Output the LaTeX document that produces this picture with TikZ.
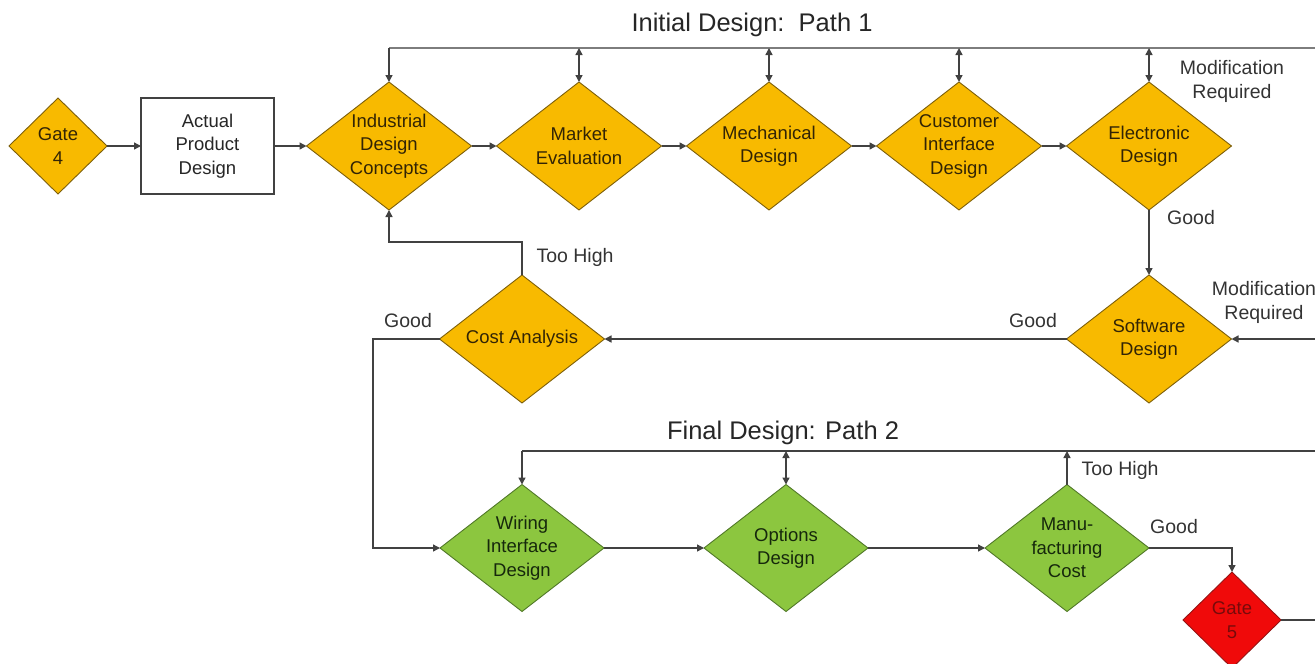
\documentclass[tikz,border=0pt]{standalone}
\usepackage{fontspec}
\setmainfont{Liberation Sans}
\usetikzlibrary{shapes.geometric,arrows.meta}

\definecolor{stageorange}{RGB}{248,186,0}
\definecolor{orangeedge}{RGB}{125,95,10}
\definecolor{orangetext}{RGB}{50,36,5}
\definecolor{stagegreen}{RGB}{140,198,63}
\definecolor{greenedge}{RGB}{80,120,40}
\definecolor{greentext}{RGB}{22,40,12}
\definecolor{gatered}{RGB}{240,10,10}
\definecolor{rededge}{RGB}{150,20,20}
\definecolor{redtext}{RGB}{120,10,10}
\definecolor{linegray}{RGB}{65,65,65}
\definecolor{busgray}{RGB}{125,125,125}

\begin{document}
\begin{tikzpicture}[x=1pt,y=-1pt,
  tip/.tip={Triangle[length=7pt,width=7pt]},
  nodefont/.style={font=\fontsize{18.5}{23.5}\selectfont},
  labelfont/.style={font=\fontsize{19.5}{24}\selectfont},
  titlefont/.style={font=\fontsize{25.5}{29}\selectfont},
  decision/.style={diamond,shape aspect=1,inner sep=0pt,outer sep=0pt,line width=0.9pt},
  orangestep/.style={decision,fill=stageorange,draw=orangeedge,
    minimum width=165pt,minimum height=128pt},
  greenstep/.style={decision,fill=stagegreen,draw=greenedge,
    minimum width=164pt,minimum height=127pt},
  gatestep/.style={decision,minimum width=98pt,minimum height=96pt},
  txt/.style={nodefont,align=center,text=#1},
  actionbox/.style={rectangle,draw=linegray,fill=white,line width=1.3pt,
    minimum width=133pt,minimum height=96pt,inner sep=0pt,outer sep=0pt,
    nodefont,align=center,text=black!85},
  conn/.style={draw=linegray,line width=1.4pt,-tip},
  twoway/.style={draw=linegray,line width=1.4pt,tip-tip},
  plain/.style={draw=linegray,line width=1.4pt},
  bus/.style={draw=busgray,line width=2pt},
  note/.style={labelfont,align=center,text=black!80}
]
\useasboundingbox (0,0) rectangle (1315,664);
\clip (0,0) rectangle (1315,664);

% titles
\node[titlefont,text=black!85] (t1) at (752,25) {Initial Design:\ \ Path 1};
\node[titlefont,text=black!85] (t2) at (783,433) {Final Design: Path 2};

% path 1 stages
\node[gatestep,fill=stageorange,draw=orangeedge,
  label={[txt=orangetext]center:Gate\\4}] (g4) at (58,146) {};
\node[actionbox] (apd) at (207.5,146) {Actual\\Product\\Design};
\node[orangestep,label={[txt=orangetext]center:Industrial\\Design\\Concepts}] (idc) at (389,146) {};
\node[orangestep,label={[txt=orangetext]center:Market\\Evaluation}] (mkt) at (579,146) {};
\node[orangestep,label={[txt=orangetext]center:Mechanical\\Design}] (mech) at (769,146) {};
\node[orangestep,label={[txt=orangetext]center:Customer\\Interface\\Design}] (cust) at (959,146) {};
\node[orangestep,label={[txt=orangetext]center:Electronic\\Design}] (elec) at (1149,146) {};
\node[orangestep,label={[txt=orangetext]center:Software\\Design}] (sw) at (1149,339) {};
\node[orangestep,label={[txt=orangetext]center:Cost Analysis}] (cost) at (522,339) {};

% path 2 stages
\node[greenstep,label={[txt=greentext]center:Wiring\\Interface\\Design}] (wir) at (522,548) {};
\node[greenstep,label={[txt=greentext]center:Options\\Design}] (opt) at (786,548) {};
\node[greenstep,label={[txt=greentext]center:Manu-\\facturing\\Cost}] (mfg) at (1067,548) {};
\node[gatestep,fill=gatered,draw=rededge,
  label={[txt=redtext]center:Gate\\5}] (g5) at (1232,620) {};

% loose ends at the right border and turning points
\coordinate (busR) at (1315,48);
\coordinate (swR) at (1315,339);
\coordinate (finR) at (1315,451);
\coordinate (g5R) at (1315,620);
\coordinate (high) at (522,242);
\coordinate (goodL) at (373,339);

% feedback bus of path 1
\draw[bus] (busR) -- (busR -| idc.north);
\draw[conn] (busR -| idc.north) -- (idc.north);
\draw[twoway] (mkt.north |- busR) -- (mkt.north);
\draw[twoway] (mech.north |- busR) -- (mech.north);
\draw[twoway] (cust.north |- busR) -- (cust.north);
\draw[twoway] (elec.north |- busR) -- (elec.north);

% forward flow of path 1
\draw[conn] (g4.east) -- (apd.west);
\draw[conn] (apd.east) -- (idc.west);
\draw[conn] (idc.east) -- (mkt.west);
\draw[conn] (mkt.east) -- (mech.west);
\draw[conn] (mech.east) -- (cust.west);
\draw[conn] (cust.east) -- (elec.west);
\draw[conn] (elec.south) -- (sw.north);
\draw[conn] (swR) -- (sw.east);
\draw[conn] (sw.west) -- (cost.east);
\draw[conn] (cost.north) -- (high) -| (idc.south);
\draw[conn] (cost.west) -- (goodL) |- (wir.west);

% path 2
\draw[plain] (finR) -- (finR -| wir.north);
\draw[conn] (finR -| wir.north) -- (wir.north);
\draw[twoway] (opt.north |- finR) -- (opt.north);
\draw[conn] (mfg.north) -- (mfg.north |- finR);
\draw[conn] (wir.east) -- (opt.west);
\draw[conn] (opt.east) -- (mfg.west);
\draw[conn] (mfg.east) -| (g5.north);
\draw[plain] (g5.east) -- (g5R);

% branch notes
\node[note] (n1) at (1232,81) {Modification\\Required};
\node[note] (n2) at (1191,218) {Good};
\node[note] (n3) at (1264,302) {Modification\\Required};
\node[note] (n4) at (1033,321) {Good};
\node[note] (n5) at (575,257) {Too High};
\node[note] (n6) at (408,321) {Good};
\node[note] (n7) at (1120,470) {Too High};
\node[note] (n8) at (1174,527) {Good};
\end{tikzpicture}
\end{document}
